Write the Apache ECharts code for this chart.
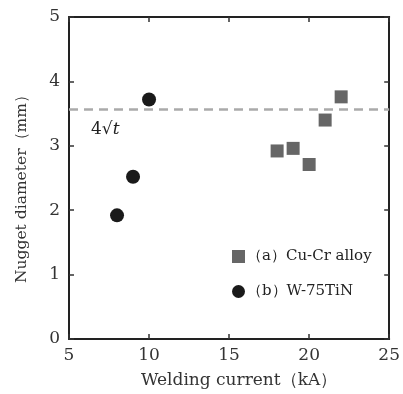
<!DOCTYPE html>
<html><head><meta charset="utf-8">
<script src="https://cdn.jsdelivr.net/npm/echarts@6/dist/echarts.min.js"></script>
<style>html,body{margin:0;padding:0;background:#fff}#c{width:403px;height:394px}</style>
</head><body><div id="c"></div>
<script>
var cucrX = [18, 19, 20, 21, 22];
var cucrY = [2.92, 2.96, 2.71, 3.40, 3.76];
var wtinX = [8, 9, 10];
var wtinY = [1.92, 2.52, 3.72];
var limitY = 3.57;
var xTicks = [5, 10, 15, 20, 25];
var yTicks = [0, 1, 2, 3, 4, 5];
var seriesNames = ['（a）Cu-Cr alloy', '（b）W-75TiN'];

function pairs(xs, ys){ return xs.map(function(x,i){ return [x, ys[i]]; }); }
var FONT = '"DejaVu Serif", "Liberation Serif", serif';
var chart = echarts.init(document.getElementById('c'));
var axisCommon = {
  axisLine:{show:true, onZero:false, lineStyle:{color:'#222', width:2}},
  axisTick:{show:true, inside:true, length:5, lineStyle:{color:'#333', width:1.5}},
  splitLine:{show:false}
};
chart.setOption({
  animation:false,
  grid:{left:69, right:11, top:17, bottom:53, containLabel:false},
  legend:{
    left:227, top:244, orient:'vertical', itemGap:20, itemWidth:13, itemHeight:13,
    itemStyle:{borderWidth:0},
    textStyle:{fontFamily:FONT, fontSize:15, color:'#222', padding:[0,0,0,-3]},
    data:[{name:seriesNames[0], icon:'rect'}, {name:seriesNames[1], icon:'circle'}]
  },
  xAxis:[Object.assign({
    type:'value', min:xTicks[0], max:xTicks[xTicks.length-1], interval:5,
    name:'Welding current（kA）', nameLocation:'middle', nameGap:33,
    nameTextStyle:{fontFamily:FONT, fontSize:17, color:'#333', padding:[0,0,0,20]},
    axisLabel:{fontFamily:FONT, fontSize:17, color:'#333', margin:8}
  }, axisCommon),
  Object.assign({
    type:'value', position:'top', min:xTicks[0], max:xTicks[xTicks.length-1], interval:5,
    axisLabel:{show:false}
  }, axisCommon)],
  yAxis:[Object.assign({
    type:'value', min:yTicks[0], max:yTicks[yTicks.length-1], interval:1,
    name:'Nugget diameter（mm）', nameLocation:'middle', nameGap:39,
    nameTextStyle:{fontFamily:FONT, fontSize:15.5, color:'#333', padding:[0,14,0,0]},
    axisLabel:{fontFamily:FONT, fontSize:17, color:'#333', margin:9}
  }, axisCommon),
  Object.assign({
    type:'value', position:'right', min:yTicks[0], max:yTicks[yTicks.length-1], interval:1,
    axisLabel:{show:false}
  }, axisCommon)],
  series:[
    {name:seriesNames[0], type:'scatter', symbol:'rect', symbolSize:13,
     itemStyle:{color:'#666', opacity:1}, data:pairs(cucrX, cucrY), z:3,
     markLine:{silent:true, symbol:'none', label:{show:false},
       lineStyle:{color:'#aaa', type:[9,6], width:2.5},
       data:[{yAxis:limitY}]}},
    {name:seriesNames[1], type:'scatter', symbol:'circle', symbolSize:14,
     itemStyle:{color:'#1a1a1a', opacity:1}, data:pairs(wtinX, wtinY), z:3}
  ],
  graphic:[{
    type:'text', left:91, top:121,
    style:{
      text:'{n|4}{r|√}{t|t}',
      rich:{
        n:{fontFamily:FONT, fontSize:17, fill:'#222'},
        r:{fontFamily:FONT, fontSize:17, fill:'#222'},
        t:{fontFamily:FONT, fontSize:17, fontStyle:'italic', fill:'#222'}
      }
    }
  }]
});
</script></body></html>
